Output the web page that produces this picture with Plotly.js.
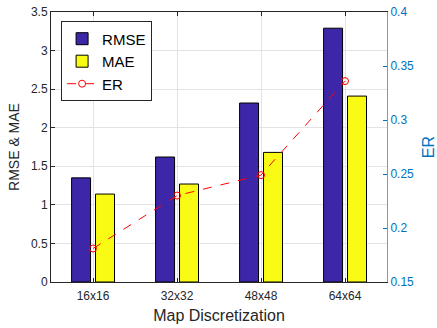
<!DOCTYPE html>
<html>
<head>
<meta charset="utf-8">
<script src="https://cdn.plot.ly/plotly-3.0.1.min.js"></script>
<style>
  html, body { margin: 0; padding: 0; background: #fff; }
  #chart { width: 437px; height: 328px; }
</style>
</head>
<body>
<div id="chart"></div>
<script>
// Error metrics per map discretization
const categories = ['16x16', '32x32', '48x48', '64x64'];
const rmse = [1.35, 1.62, 2.32, 3.29];
const mae = [1.14, 1.27, 1.68, 2.41];
const er = [0.181, 0.230, 0.249, 0.336];
const leftTicks = [0, 0.5, 1, 1.5, 2, 2.5, 3, 3.5];
const rightTicks = [0.15, 0.2, 0.25, 0.3, 0.35, 0.4];

const font = 'Liberation Sans, Arial, sans-serif';
const ink = '#262626';
const blue = '#0072BD';

const traces = [
  {
    type: 'bar', name: 'RMSE', x: categories, y: rmse,
    offset: -0.255, width: 0.226,
    marker: { color: '#3e26a8', line: { color: '#000', width: 1 } }
  },
  {
    type: 'bar', name: 'MAE', x: categories, y: mae,
    offset: 0.03, width: 0.226,
    marker: { color: '#f9fb15', line: { color: '#000', width: 1 } }
  },
  {
    type: 'scatter', mode: 'lines+markers', name: 'ER', x: categories, y: er,
    yaxis: 'y2',
    line: { color: '#ff0000', width: 1, dash: 'dash' },
    marker: { symbol: 'circle-open', size: 7, color: '#ff0000', line: { width: 1 } }
  }
];

const layout = {
  width: 437, height: 328,
  margin: { l: 51, r: 50, t: 12, b: 46 },
  paper_bgcolor: '#fff', plot_bgcolor: '#fff',
  font: { family: font, color: ink, size: 12 },
  showlegend: true,
  barmode: 'group',
  xaxis: {
    type: 'category', range: [-0.5, 3.5],
    showgrid: true, gridcolor: '#e3e3e3',
    showline: true, linecolor: ink, linewidth: 1, mirror: 'ticks',
    ticks: 'inside', ticklen: 4, tickcolor: ink,
    ticklabelstandoff: 3,
    tickfont: { size: 12, color: ink, family: font },
    title: { text: 'Map Discretization', font: { size: 16, color: ink, family: font }, standoff: 7 },
    zeroline: false
  },
  yaxis: {
    range: [0, 3.5], tickvals: leftTicks,
    ticktext: leftTicks.map(v => String(v)),
    showgrid: true, gridcolor: '#e3e3e3',
    showline: true, linecolor: ink, linewidth: 1,
    ticks: 'inside', ticklen: 4, tickcolor: ink,
    tickfont: { size: 12, color: ink, family: font },
    title: { text: 'RMSE & MAE', font: { size: 14, color: ink, family: font }, standoff: 8 },
    zeroline: false
  },
  yaxis2: {
    overlaying: 'y', side: 'right',
    range: [0.15, 0.4], tickvals: rightTicks,
    ticktext: rightTicks.map(v => String(v)),
    showgrid: false,
    showline: true, linecolor: '#5aa6dc', linewidth: 1,
    ticks: 'inside', ticklen: 4, tickcolor: blue,
    tickfont: { size: 12, color: blue, family: font },
    title: { text: 'ER', font: { size: 16, color: blue, family: font }, standoff: 10 },
    zeroline: false
  },
  legend: {
    x: 0.03, y: 0.965, xanchor: 'left', yanchor: 'top',
    bgcolor: '#fff', bordercolor: ink, borderwidth: 1,
    font: { size: 15, color: '#000', family: font },
    tracegroupgap: 0, itemwidth: 30
  }
};

Plotly.newPlot('chart', traces, layout, { displayModeBar: false, staticPlot: true });
</script>
</body>
</html>
